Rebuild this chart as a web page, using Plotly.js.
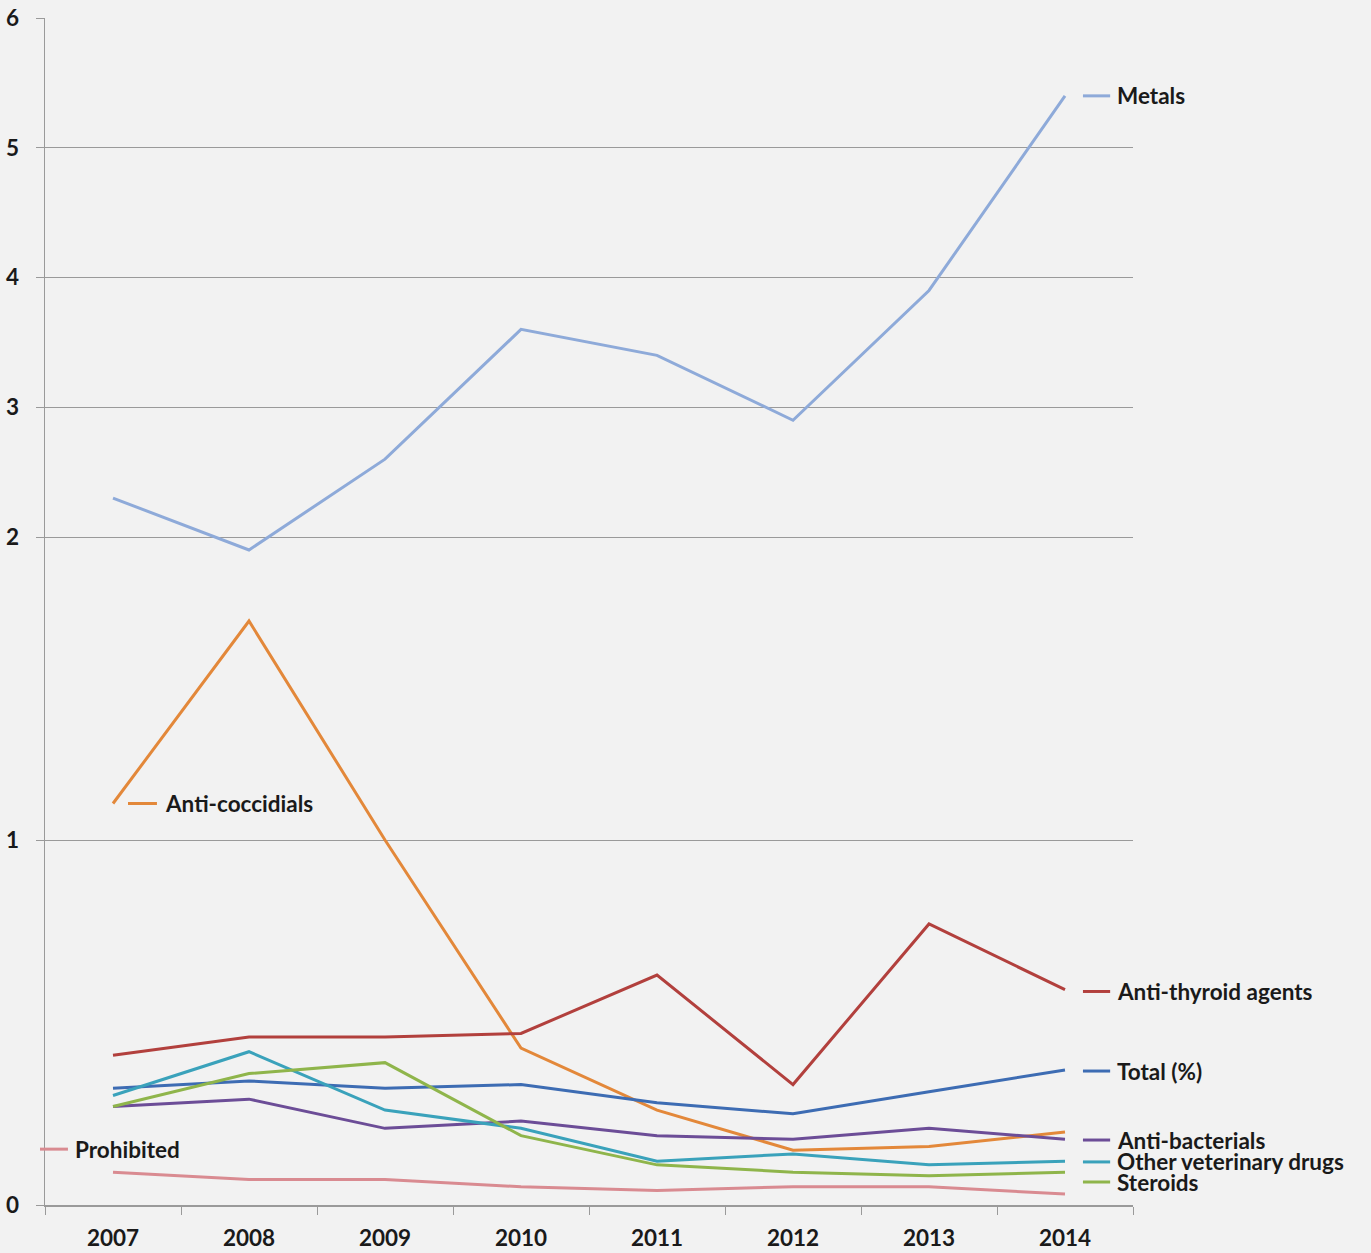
<!DOCTYPE html>
<html>
<head>
<meta charset="utf-8">
<script src="https://cdn.plot.ly/plotly-3.0.1.min.js"></script>
<style>html,body{margin:0;padding:0;background:#f2f2f2;}#chart{width:1371px;height:1253px;}</style>
</head>
<body>
<div id="chart"></div>
<script>
const years = ["2007","2008","2009","2010","2011","2012","2013","2014"];
const metals          = [2.30, 1.90, 2.60, 3.60, 3.40, 2.90, 3.90, 5.40];
const antiCoccidials  = [1.10, 1.60, 1.00, 0.43, 0.26, 0.15, 0.16, 0.20];
const antiThyroid     = [0.41, 0.46, 0.46, 0.47, 0.63, 0.33, 0.77, 0.59];
const total           = [0.32, 0.34, 0.32, 0.33, 0.28, 0.25, 0.31, 0.37];
const antiBacterials  = [0.27, 0.29, 0.21, 0.23, 0.19, 0.18, 0.21, 0.18];
const otherVet        = [0.30, 0.42, 0.26, 0.21, 0.12, 0.14, 0.11, 0.12];
const steroids        = [0.27, 0.36, 0.39, 0.19, 0.11, 0.09, 0.08, 0.09];
const prohibited      = [0.09, 0.07, 0.07, 0.05, 0.04, 0.05, 0.05, 0.03];

// axis "y2" = upper panel (metals), "y" = lower panel (everything else)
const series = [
  {name:"Metals", y:metals, color:"#8eaad9", axis:"y2"},
  {name:"Anti-coccidials", y:antiCoccidials, color:"#e3883a", axis:"y"},
  {name:"Anti-thyroid agents", y:antiThyroid, color:"#b2403d", axis:"y"},
  {name:"Total (%)", y:total, color:"#3d6cb3", axis:"y"},
  {name:"Anti-bacterials", y:antiBacterials, color:"#6c4d97", axis:"y"},
  {name:"Other veterinary drugs", y:otherVet, color:"#3aa2bb", axis:"y"},
  {name:"Steroids", y:steroids, color:"#8fb54b", axis:"y"},
  {name:"Prohibited", y:prohibited, color:"#d98b91", axis:"y"}
];

// label positions: [series index, value for label, dash x0, dash x1, text x]
const labels = [
  [0, 5.40, 0.954, 0.979, 0.983],
  [2, 0.585, 0.954, 0.979, 0.983],
  [3, 0.367, 0.954, 0.979, 0.983],
  [4, 0.178, 0.954, 0.979, 0.983],
  [5, 0.118, 0.954, 0.979, 0.983],
  [6, 0.063, 0.954, 0.979, 0.983],
  [1, 1.10, 0.0763, 0.1029, 0.1085],
  [7, 0.153, -0.0046, 0.0211, 0.0258]
];

const traces = series.map(s => ({
  type:"scatter", mode:"lines", x:years, y:s.y, name:s.name,
  xaxis:"x", yaxis:s.axis, line:{color:s.color, width:3}, showlegend:false, hoverinfo:"skip"
}));

const shapes = [];
const annotations = [];
labels.forEach(l => {
  const s = series[l[0]];
  shapes.push({type:"line", xref:"paper", yref:s.axis, x0:l[2], x1:l[3], y0:l[1], y1:l[1],
    line:{color:s.color, width:3}});
  annotations.push({xref:"paper", yref:s.axis, x:l[4], y:l[1], xanchor:"left", yanchor:"middle",
    text:s.name, showarrow:false, font:{family:"Lato", size:22.5, weight:"bold", color:"#1a1a1a"}});
});

const H = 1187;
const dSplit = 616/H;
const lowTop = 616/365;
const upBottom = 6 - 571/129.75;
const tf = {family:"Lato", size:22.5, weight:"bold", color:"#1a1a1a"};
const common = {showline:true, linecolor:"#9a9a9a", linewidth:1.5, ticks:"outside", ticklen:8,
  tickcolor:"#9a9a9a", gridcolor:"#9a9a9a", gridwidth:1, zeroline:false, tickfont:tf, fixedrange:true};

const layout = {
  width:1371, height:1253,
  margin:{l:45, r:238, t:18, b:48},
  paper_bgcolor:"#f2f2f2", plot_bgcolor:"#f2f2f2",
  showlegend:false,
  xaxis:Object.assign({}, common, {type:"category", range:[-0.5,7.5], tickson:"boundaries",
    showgrid:false, anchor:"y", ticklabelstandoff:12}),
  yaxis:Object.assign({}, common, {domain:[0,dSplit], range:[0,lowTop], tickvals:[0,1], showgrid:true, anchor:"x", ticklabelstandoff:12}),
  yaxis2:Object.assign({}, common, {domain:[dSplit,1], range:[upBottom,6], tickvals:[2,3,4,5,6], showgrid:true, anchor:"x", ticklabelstandoff:12}),
  shapes:shapes,
  annotations:annotations
};

Plotly.newPlot("chart", traces, layout, {displayModeBar:false, staticPlot:true});
</script>
</body>
</html>
